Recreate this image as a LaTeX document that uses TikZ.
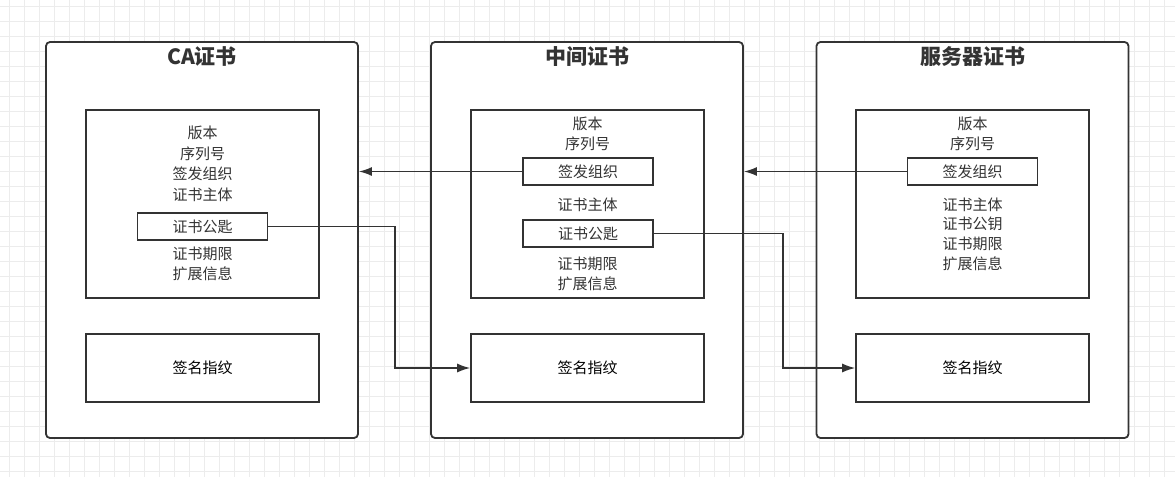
\documentclass[tikz,border=0pt]{standalone}
\usepackage{fontspec}
\setmainfont{Noto Sans CJK SC}
\usetikzlibrary{arrows.meta,positioning,calc}
\definecolor{ink}{RGB}{51,51,51}
\definecolor{gridc}{RGB}{236,236,236}

\begin{document}
\begin{tikzpicture}[x=1pt,y=-1pt,>={Latex[length=13pt,width=9pt]},
  cert/.style={draw=ink,line width=1.8pt,rounded corners=4pt,fill=white,minimum width=312pt,minimum height=396pt,inner sep=0pt},
  title/.style={text=ink,font=\fontsize{21}{24}\selectfont\bfseries},
  field/.style={draw=ink,line width=1.6pt,fill=white,minimum width=233pt,inner sep=0pt},
  tagbox/.style={draw=ink,line width=1.6pt,fill=white,minimum width=130pt,minimum height=27pt,inner sep=0pt,text=ink,font=\fontsize{15}{18}\selectfont},
  txt/.style={text=ink,align=center,inner sep=0pt,font=\fontsize{15}{20.5}\selectfont},
  conn/.style={->,draw=ink,line width=1.5pt}]
\useasboundingbox (0,0) rectangle (1175,477);
\fill[white] (0,0) rectangle (1175,477);
% background grid
\foreach \x in {9,24,...,1175} \draw[gridc,line width=1pt] (\x,0) -- (\x,477);
\foreach \y in {6,21,...,477} \draw[gridc,line width=1pt] (0,\y) -- (1175,\y);

% certificates
\node[cert] (ca) at (202,240) {};
\node[cert] (mid) at (587,240) {};
\node[cert] (srv) at (972.5,240) {};
\node[title] (catitle) at (202,56.5) {CA证书};
\node[title] (midtitle) at (587,56.5) {中间证书};
\node[title] (srvtitle) at (972.5,56.5) {服务器证书};

% CA
\node[field,minimum height=188pt] (cabody) at (202.5,204) {};
\node[field,minimum height=68pt] (casig) at (202.5,368) {\fontsize{15}{18}\selectfont 签名指纹};
\node[txt] (cahead) at (202.5,164) {版本\\序列号\\签发组织\\证书主体};
\node[tagbox] (cakey) at (202.5,226.5) {证书公匙};
\node[txt] (catail) at (202.5,264) {证书期限\\扩展信息};

% intermediate
\node[field,minimum height=188pt] (midbody) at (587.5,204) {};
\node[field,minimum height=68pt] (midsig) at (587.5,368) {\fontsize{15}{18}\selectfont 签名指纹};
\node[txt] (midhead) at (587.5,134) {版本\\序列号};
\node[tagbox] (midiss) at (588,171.5) {签发组织};
\node[txt] (midsubj) at (587.5,205) {证书主体};
\node[tagbox] (midkey) at (588,233.5) {证书公匙};
\node[txt] (midtail) at (587.5,274) {证书期限\\扩展信息};

% server
\node[field,minimum height=188pt] (srvbody) at (972.5,204) {};
\node[field,minimum height=68pt] (srvsig) at (972.5,368) {\fontsize{15}{18}\selectfont 签名指纹};
\node[txt] (srvhead) at (972.5,134) {版本\\序列号};
\node[tagbox] (srviss) at (972.5,171.5) {签发组织};
\node[txt,font=\fontsize{15}{19.7}\selectfont] (srvtail) at (972.5,234) {证书主体\\证书公钥\\证书期限\\扩展信息};

% links
\draw[conn] (midiss.west) -- (ca.east |- midiss.west);
\draw[conn] (srviss.west) -- (mid.east |- srviss.west);
\draw[conn] (cakey.east) -| ([xshift=-75pt]midsig.west) -- (midsig.west);
\draw[conn] (midkey.east) -| ([xshift=-72pt]srvsig.west) -- (srvsig.west);
\end{tikzpicture}
\end{document}
